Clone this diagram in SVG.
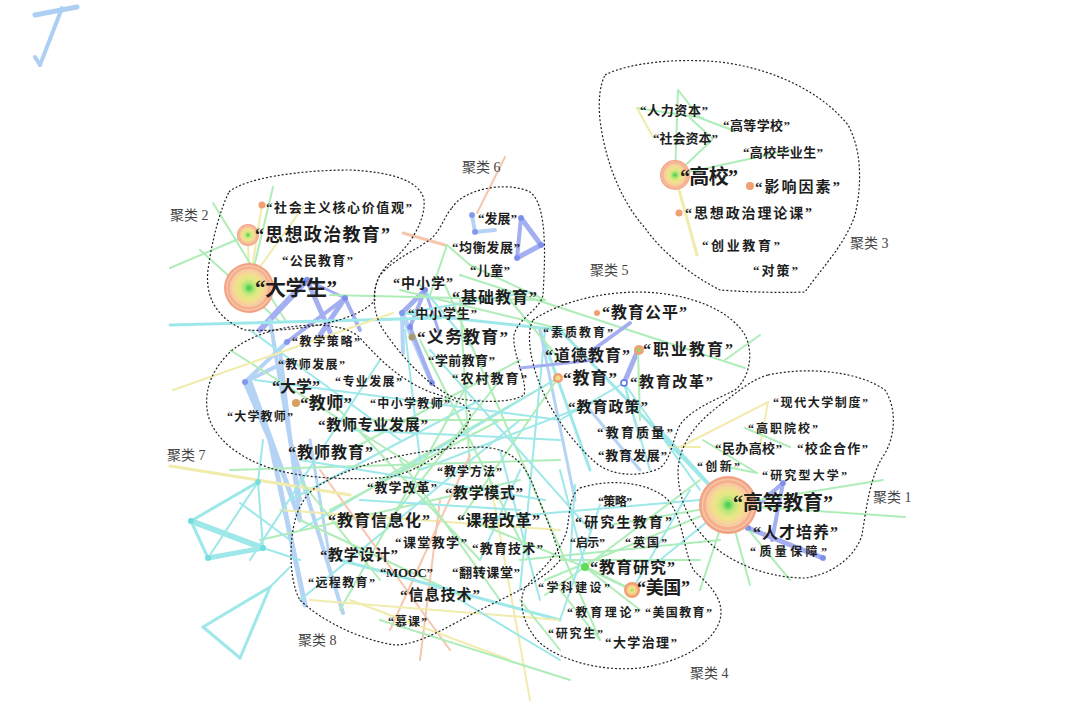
<svg xmlns="http://www.w3.org/2000/svg" xmlns:xlink="http://www.w3.org/1999/xlink" width="1080" height="710" viewBox="0 0 1080 710">
<style>
.e{fill:none;stroke-linecap:round;opacity:.55}
.g{stroke:#6fe07f}.c{stroke:#4fd6d8}.lb{stroke:#7ab0ee}.b{stroke:#5a6ee6}.y{stroke:#e6dc6a}.o{stroke:#ee9a6e}
.w2{stroke-width:2}.w3{stroke-width:3}.w4{stroke-width:4}.w5{stroke-width:5}.w6{stroke-width:6}
.hull{fill:none;stroke:#222;stroke-width:1.2;stroke-dasharray:2 2}
.cl{font-family:"Liberation Serif","Noto Sans CJK SC",serif;font-size:14px;fill:#444}
.t{font-family:"Liberation Serif","Noto Sans CJK SC",serif;font-weight:bold;fill:#1e1e1e}
.mn{fill:#6b7fea;opacity:.7}
.mc{fill:#5fd8d8;opacity:.7}
</style>
<defs>
<symbol id="burst" viewBox="-30 -30 60 60">
<circle r="30" fill="#f2a284"/><circle r="27.5" fill="#f7c2a4"/><circle r="25.5" fill="#f4ae8c"/><circle r="23" fill="#f8cba0"/><circle r="20" fill="#f5d796"/><circle r="16.5" fill="#efe38a"/><circle r="13" fill="#dfe884"/><circle r="9.5" fill="#c4e67c"/><circle r="6" fill="#92e06c"/><circle r="3" fill="#4fd255"/>
</symbol>
<symbol id="ring" viewBox="-30 -30 60 60">
<circle r="30" fill="#f0a070"/><circle r="21" fill="#f6c890"/><circle r="13" fill="#eee680"/><circle r="6" fill="#a8e070"/>
</symbol>
</defs>
<rect width="1080" height="710" fill="#fff"/>

<g id="corner-mark" class="e" style="opacity:.6">
<line x1="35" y1="15" x2="77" y2="7" class="lb w5"/>
<line x1="62" y1="8" x2="40" y2="65" class="lb w4"/>
<line x1="35" y1="57" x2="40" y2="65" class="lb w4"/>
</g>

<g id="connectors" class="e">
<!-- cluster 3 -->
<line x1="678" y1="90" x2="675" y2="175" class="g w2"/>
<line x1="678" y1="90" x2="700" y2="118" class="g w2"/>
<line x1="700" y1="118" x2="735" y2="131" class="g w2"/>
<line x1="637" y1="108" x2="703" y2="118" class="g w2"/>
<line x1="637" y1="108" x2="653" y2="137" class="y w2"/>
<line x1="690" y1="118" x2="712" y2="138" class="g w2"/>
<line x1="675" y1="175" x2="712" y2="140" class="g w2"/>
<line x1="675" y1="175" x2="790" y2="150" class="g w2"/>
<line x1="675" y1="175" x2="697" y2="255" class="y w3"/>
<!-- cluster 2 -->
<line x1="249" y1="288" x2="262" y2="205" class="y w2"/>
<line x1="249" y1="288" x2="248" y2="235" class="y w2"/>
<line x1="170" y1="268" x2="248" y2="235" class="g w2"/>
<line x1="213" y1="203" x2="285" y2="320" class="g w2"/>
<line x1="200" y1="250" x2="280" y2="322" class="g w2"/>
<line x1="273" y1="187" x2="249" y2="288" class="g w2"/>
<line x1="303" y1="207" x2="260" y2="267" class="y w2"/>
<line x1="260" y1="330" x2="307" y2="280" class="b w6"/>
<line x1="307" y1="280" x2="330" y2="332" class="b w5"/>
<line x1="307" y1="280" x2="345" y2="298" class="b w3"/>
<line x1="345" y1="298" x2="320" y2="335" class="b w5"/>
<line x1="345" y1="298" x2="287" y2="342" class="b w4"/>
<line x1="345" y1="298" x2="360" y2="330" class="b w4"/>
<line x1="403" y1="233" x2="445" y2="245" class="o w3"/>
<!-- cluster 6 -->
<line x1="505" y1="157" x2="477" y2="213" class="o w2"/>
<line x1="472" y1="215" x2="475" y2="232" class="lb w4"/>
<line x1="475" y1="232" x2="495" y2="230" class="lb w4"/>
<line x1="521" y1="218" x2="541" y2="245" class="b w5"/>
<line x1="541" y1="245" x2="517" y2="258" class="b w5"/>
<line x1="517" y1="258" x2="521" y2="218" class="b w4"/>
<line x1="447" y1="245" x2="430" y2="295" class="g w2"/>
<line x1="447" y1="245" x2="470" y2="265" class="g w2"/>
<line x1="470" y1="265" x2="545" y2="300" class="g w2"/>
<!-- primary / compulsory education -->
<line x1="425" y1="290" x2="402" y2="313" class="b w5"/>
<line x1="425" y1="290" x2="410" y2="327" class="b w4"/>
<line x1="402" y1="313" x2="432" y2="383" class="lb w5"/>
<line x1="410" y1="327" x2="432" y2="383" class="b w4"/>
<line x1="425" y1="290" x2="440" y2="335" class="b w3"/>
<line x1="402" y1="313" x2="403" y2="353" class="lb w4"/>
<!-- cluster 7 -->
<line x1="287" y1="342" x2="245" y2="382" class="lb w4"/>
<line x1="245" y1="382" x2="285" y2="362" class="lb w4"/>
<line x1="245" y1="382" x2="270" y2="440" class="lb w5"/>
<line x1="280" y1="352" x2="300" y2="520" class="lb w4"/>
<line x1="270" y1="320" x2="300" y2="500" class="lb w4"/>
<line x1="250" y1="382" x2="300" y2="520" class="lb w5"/>
<line x1="270" y1="440" x2="305" y2="605" class="lb w5"/>
<line x1="290" y1="440" x2="343" y2="613" class="lb w4"/>
<line x1="310" y1="440" x2="330" y2="560" class="lb w3"/>
<!-- long lines -->
<line x1="170" y1="325" x2="440" y2="318" class="c w3"/>
<line x1="330" y1="295" x2="545" y2="300" class="g w2"/>
<line x1="400" y1="290" x2="565" y2="330" class="g w2"/>
<line x1="405" y1="313" x2="560" y2="330" class="c w3"/>
<line x1="405" y1="313" x2="530" y2="292" class="c w2"/>
<line x1="420" y1="285" x2="470" y2="345" class="c w2"/>
<line x1="445" y1="285" x2="600" y2="640" class="g w2"/>
<line x1="460" y1="300" x2="470" y2="470" class="g w2"/>
<line x1="540" y1="330" x2="590" y2="470" class="c w3"/>
<line x1="545" y1="330" x2="520" y2="590" class="c w2"/>
<line x1="540" y1="330" x2="575" y2="500" class="lb w3"/>
<line x1="558" y1="378" x2="460" y2="520" class="g w2"/>
<line x1="558" y1="378" x2="380" y2="480" class="g w2"/>
<line x1="558" y1="378" x2="300" y2="530" class="c w2"/>
<line x1="520" y1="360" x2="350" y2="450" class="g w2"/>
<line x1="600" y1="400" x2="420" y2="470" class="c w2"/>
<line x1="500" y1="420" x2="330" y2="510" class="g w2"/>
<line x1="480" y1="400" x2="290" y2="500" class="c w2"/>
<line x1="230" y1="470" x2="560" y2="460" class="g w2"/>
<line x1="300" y1="460" x2="545" y2="500" class="c w2"/>
<line x1="260" y1="540" x2="520" y2="480" class="g w2"/>
<line x1="280" y1="510" x2="560" y2="530" class="y w2"/>
<line x1="300" y1="600" x2="520" y2="420" class="c w2"/>
<line x1="340" y1="610" x2="470" y2="380" class="g w2"/>
<line x1="300" y1="520" x2="470" y2="600" class="g w2"/>
<line x1="320" y1="470" x2="450" y2="650" class="o w2"/>
<line x1="440" y1="500" x2="420" y2="660" class="o w2"/>
<line x1="470" y1="455" x2="390" y2="630" class="o w2"/>
<line x1="490" y1="480" x2="530" y2="700" class="y w2"/>
<line x1="340" y1="560" x2="560" y2="620" class="c w3"/>
<line x1="560" y1="620" x2="310" y2="600" class="y w2"/>
<line x1="350" y1="600" x2="510" y2="660" class="y w2"/>
<line x1="380" y1="620" x2="570" y2="680" class="g w2"/>
<line x1="460" y1="600" x2="560" y2="660" class="c w2"/>
<line x1="560" y1="560" x2="700" y2="560" class="g w2"/>
<line x1="470" y1="520" x2="700" y2="500" class="c w2"/>
<line x1="520" y1="560" x2="720" y2="540" class="g w2"/>
<line x1="545" y1="580" x2="728" y2="505" class="g w2"/>
<line x1="560" y1="330" x2="728" y2="505" class="c w3"/>
<line x1="460" y1="275" x2="745" y2="368" class="g w2"/>
<line x1="510" y1="300" x2="560" y2="360" class="g w2"/>
<line x1="230" y1="350" x2="420" y2="470" class="g w2"/>
<line x1="250" y1="330" x2="400" y2="440" class="c w2"/>
<line x1="173" y1="390" x2="393" y2="313" class="y w2"/>
<line x1="170" y1="466" x2="350" y2="495" class="y w3"/>
<line x1="405" y1="330" x2="420" y2="460" class="c w2"/>
<line x1="420" y1="340" x2="530" y2="560" class="g w2"/>
<line x1="430" y1="350" x2="590" y2="530" class="c w2"/>
<line x1="370" y1="420" x2="530" y2="420" class="g w2"/>
<line x1="350" y1="430" x2="560" y2="440" class="c w2"/>
<line x1="500" y1="380" x2="390" y2="520" class="g w2"/>
<line x1="520" y1="470" x2="480" y2="560" class="c w2"/>
<line x1="300" y1="480" x2="380" y2="580" class="g w2"/>
<line x1="360" y1="500" x2="520" y2="510" class="c w2"/>
<line x1="400" y1="460" x2="500" y2="600" class="g w2"/>
<line x1="500" y1="450" x2="540" y2="600" class="c w2"/>
<line x1="590" y1="410" x2="640" y2="470" class="lb w3"/>
<line x1="255" y1="380" x2="560" y2="420" class="c w2"/>
<line x1="380" y1="360" x2="250" y2="560" class="c w2"/>
<line x1="330" y1="400" x2="480" y2="560" class="g w2"/>
<!-- left outliers -->
<line x1="258" y1="482" x2="191" y2="521" class="c w3"/>
<line x1="191" y1="521" x2="208" y2="558" class="c w3"/>
<line x1="208" y1="558" x2="263" y2="548" class="c w5"/>
<line x1="191" y1="521" x2="263" y2="548" class="c w6"/>
<line x1="208" y1="558" x2="258" y2="482" class="c w2"/>
<line x1="258" y1="482" x2="263" y2="547" class="c w2"/>
<line x1="240" y1="503" x2="290" y2="540" class="c w2"/>
<line x1="258" y1="482" x2="263" y2="440" class="c w2"/>
<line x1="263" y1="548" x2="300" y2="560" class="c w2"/>
<line x1="270" y1="587" x2="203" y2="627" class="c w3"/>
<line x1="203" y1="627" x2="240" y2="658" class="c w3"/>
<line x1="240" y1="658" x2="270" y2="587" class="c w3"/>
<line x1="270" y1="587" x2="290" y2="567" class="c w2"/>
<!-- cluster 5 -->
<line x1="630" y1="323" x2="590" y2="352" class="b w4"/>
<line x1="638" y1="350" x2="624" y2="383" class="b w5"/>
<line x1="520" y1="368" x2="595" y2="360" class="b w3"/>
<line x1="760" y1="335" x2="725" y2="360" class="g w2"/>
<line x1="624" y1="383" x2="560" y2="420" class="c w2"/>
<line x1="624" y1="383" x2="640" y2="440" class="c w2"/>
<line x1="638" y1="350" x2="640" y2="420" class="g w2"/>
<line x1="624" y1="383" x2="700" y2="490" class="c w2"/>
<line x1="624" y1="383" x2="650" y2="470" class="c w2"/>
<!-- cluster 1 -->
<line x1="680" y1="447" x2="768" y2="402" class="y w2"/>
<line x1="768" y1="402" x2="760" y2="445" class="y w2"/>
<line x1="700" y1="447" x2="670" y2="447" class="y w2"/>
<line x1="745" y1="428" x2="790" y2="447" class="g w2"/>
<line x1="703" y1="440" x2="757" y2="473" class="g w2"/>
<line x1="757" y1="473" x2="727" y2="467" class="g w2"/>
<line x1="760" y1="503" x2="783" y2="483" class="b w4"/>
<line x1="783" y1="483" x2="772" y2="540" class="b w4"/>
<line x1="748" y1="528" x2="823" y2="558" class="b w5"/>
<line x1="728" y1="505" x2="905" y2="517" class="g w2"/>
<line x1="728" y1="505" x2="883" y2="480" class="g w2"/>
<line x1="728" y1="505" x2="790" y2="580" class="g w2"/>
<line x1="728" y1="505" x2="750" y2="585" class="g w2"/>
<line x1="728" y1="505" x2="660" y2="560" class="c w2"/>
<line x1="728" y1="505" x2="660" y2="430" class="c w3"/>
<line x1="728" y1="505" x2="610" y2="525" class="g w2"/>
<line x1="728" y1="505" x2="700" y2="590" class="g w2"/>
<!-- cluster 4 -->
<line x1="585" y1="567" x2="632" y2="590" class="g w3"/>
<line x1="632" y1="590" x2="690" y2="490" class="c w2"/>
<line x1="585" y1="567" x2="470" y2="520" class="g w2"/>
<line x1="585" y1="567" x2="560" y2="470" class="c w2"/>
<line x1="585" y1="567" x2="640" y2="610" class="g w2"/>
<line x1="585" y1="567" x2="700" y2="480" class="g w2"/>
<line x1="585" y1="567" x2="545" y2="595" class="g w2"/>
<line x1="560" y1="620" x2="600" y2="505" class="c w2"/>
<line x1="600" y1="640" x2="560" y2="590" class="g w2"/>
<line x1="520" y1="600" x2="560" y2="650" class="g w2"/>
<line x1="575" y1="485" x2="570" y2="560" class="c w2"/>
</g>

<g id="minor-nodes">
<circle cx="307" cy="280" r="3" class="mn"/><circle cx="345" cy="298" r="3" class="mn"/>
<circle cx="287" cy="342" r="3" class="mn"/><circle cx="245" cy="382" r="3" class="mn"/>
<circle cx="425" cy="290" r="3" class="mn"/><circle cx="402" cy="313" r="3" class="mn"/>
<circle cx="410" cy="327" r="3" class="mn"/><circle cx="432" cy="383" r="3" class="mn"/>
<circle cx="521" cy="218" r="3" class="mn"/><circle cx="541" cy="245" r="3" class="mn"/>
<circle cx="517" cy="258" r="3" class="mn"/><circle cx="472" cy="215" r="3" class="mn"/>
<circle cx="475" cy="232" r="3" class="mn"/><circle cx="783" cy="483" r="3" class="mn"/>
<circle cx="823" cy="558" r="3" class="mn"/><circle cx="748" cy="528" r="3" class="mn"/>
<circle cx="258" cy="482" r="3" class="mc"/><circle cx="191" cy="521" r="3" class="mc"/>
<circle cx="208" cy="558" r="3" class="mc"/><circle cx="263" cy="548" r="3" class="mc"/>
</g>

<g id="clusters">
<path class="hull" d="M605,75 C630,62 680,58 720,62 C770,68 820,90 848,125 C862,150 862,185 855,215 C845,245 820,270 805,292 C780,293 745,292 720,290 C690,275 660,250 645,228 C620,200 605,160 600,120 C598,100 600,85 605,75 Z"/>
<path class="hull" d="M229,192 C245,178 300,170 350,170 C390,172 420,180 424,200 C426,220 410,245 395,258 C380,270 373,285 375,300 C360,320 300,333 245,330 C215,318 205,295 208,270 C212,240 220,210 229,192 Z"/>
<path class="hull" d="M452,208 C462,190 505,180 530,192 C548,205 545,260 543,295 C540,310 518,318 514,335 C512,355 528,380 524,395 C510,404 475,402 455,398 C425,385 398,352 382,328 C372,310 372,290 380,275 C395,258 420,248 432,238 C442,228 445,215 452,208 Z"/>
<path class="hull" d="M533,320 C560,302 600,292 640,292 C690,293 730,310 745,335 C755,355 748,380 735,390 C715,400 690,410 680,425 C672,440 672,458 660,468 C640,478 610,476 595,462 C570,440 550,410 540,385 C532,365 525,335 533,320 Z"/>
<path class="hull" d="M268,332 C300,322 345,322 360,338 C380,360 400,380 430,392 C455,400 472,405 470,418 C462,440 425,470 390,477 C350,481 300,478 270,468 C240,458 215,440 208,415 C203,390 212,370 230,352 C242,342 255,336 268,332 Z"/>
<path class="hull" d="M323,483 C360,462 420,448 480,447 C510,448 525,462 535,490 C545,515 558,545 560,560 C545,580 510,595 480,610 C450,625 420,645 395,645 C360,640 320,620 300,600 C288,580 288,530 300,507 C306,495 313,488 323,483 Z"/>
<path class="hull" d="M580,488 C610,478 650,482 668,500 C685,520 683,555 695,572 C710,585 725,600 720,620 C712,645 680,662 640,668 C600,672 560,660 540,643 C522,625 518,600 525,588 C540,570 560,555 567,530 C570,510 570,495 580,488 Z"/>
<path class="hull" d="M768,375 C810,366 860,372 885,390 C898,410 895,440 882,458 C870,478 866,510 862,535 C855,558 830,575 805,578 C770,578 735,565 712,545 C690,525 678,500 678,470 C680,440 700,420 720,405 C738,392 750,380 768,375 Z"/>
<text class="cl" x="873" y="502">聚类 1</text>
<text class="cl" x="170" y="220">聚类 2</text>
<text class="cl" x="850" y="248">聚类 3</text>
<text class="cl" x="690" y="678">聚类 4</text>
<text class="cl" x="590" y="275">聚类 5</text>
<text class="cl" x="462" y="172">聚类 6</text>
<text class="cl" x="167" y="460">聚类 7</text>
<text class="cl" x="298" y="645">聚类 8</text>
</g>

<!-- cluster 3 nodes -->
<g id="n-rlzb"><text class="t" x="640" y="115" font-size="13" textLength="68">“人力资本”</text></g>
<g id="n-gdxx"><text class="t" x="723" y="130" font-size="13" textLength="67">“高等学校”</text></g>
<g id="n-shzb"><text class="t" x="653" y="143" font-size="13" textLength="65">“社会资本”</text></g>
<g id="n-gxbys"><text class="t" x="743" y="157" font-size="13" textLength="80">“高校毕业生”</text></g>
<g id="n-gx"><use href="#burst" x="660" y="160" width="30" height="30"/><text class="t" x="680" y="184" font-size="20" textLength="58">“高校”</text></g>
<g id="n-yxys"><circle cx="750" cy="186" r="4" fill="#f0a070"/><text class="t" x="755" y="192" font-size="15" textLength="85">“影响因素”</text></g>
<g id="n-szllk"><circle cx="679" cy="213" r="3.5" fill="#f0a070"/><text class="t" x="685" y="218" font-size="14" textLength="127">“思想政治理论课”</text></g>
<g id="n-cyjy"><text class="t" x="702" y="250" font-size="13" textLength="78">“创业教育”</text></g>
<g id="n-dc"><text class="t" x="753" y="275" font-size="13" textLength="45">“对策”</text></g>

<!-- cluster 2 nodes -->
<g id="n-shzy"><circle cx="262" cy="205" r="3.5" fill="#f0a070"/><text class="t" x="266" y="212" font-size="13" textLength="146">“社会主义核心价值观”</text></g>
<g id="n-szzzjy"><use href="#burst" x="237" y="224" width="22" height="22"/><text class="t" x="255" y="241" font-size="18" textLength="135">“思想政治教育”</text></g>
<g id="n-gmjy"><text class="t" x="282" y="265" font-size="13" textLength="71">“公民教育”</text></g>
<g id="n-dxs"><use href="#burst" x="224" y="263" width="50" height="50"/><text class="t" x="255" y="295" font-size="21" textLength="82">“大学生”</text></g>

<!-- cluster 6 nodes -->
<g id="n-fz"><text class="t" x="478" y="223" font-size="13" textLength="39">“发展”</text></g>
<g id="n-jhfz"><text class="t" x="452" y="252" font-size="13" textLength="68">“均衡发展”</text></g>
<g id="n-et"><text class="t" x="470" y="275" font-size="13" textLength="40">“儿童”</text></g>
<g id="n-zxx"><text class="t" x="393" y="288" font-size="14" textLength="60">“中小学”</text></g>
<g id="n-jcjy"><text class="t" x="452" y="303" font-size="16" textLength="85">“基础教育”</text></g>
<g id="n-zxxs"><text class="t" x="408" y="318" font-size="13" textLength="69">“中小学生”</text></g>
<g id="n-ywjy"><circle cx="412" cy="337" r="3.5" fill="#a89a70"/><text class="t" x="417" y="343" font-size="17" textLength="91">“义务教育”</text></g>
<g id="n-xqjy"><text class="t" x="428" y="365" font-size="13" textLength="67">“学前教育”</text></g>
<g id="n-ncjy"><text class="t" x="452" y="383" font-size="13" textLength="75">“农村教育”</text></g>

<!-- cluster 5 nodes -->
<g id="n-jygp"><circle cx="597" cy="313" r="3" fill="#f0a070"/><text class="t" x="602" y="318" font-size="16" textLength="85">“教育公平”</text></g>
<g id="n-szjy"><text class="t" x="543" y="337" font-size="12" textLength="70">“素质教育”</text></g>
<g id="n-ddjy"><text class="t" x="545" y="361" font-size="16" textLength="85">“道德教育”</text></g>
<g id="n-zyjy"><circle cx="639" cy="350" r="5" fill="#f0a070"/><circle cx="639" cy="350" r="2" fill="#8fd870"/><text class="t" x="643" y="355" font-size="16" textLength="90">“职业教育”</text></g>
<g id="n-jy"><circle cx="558" cy="378" r="5" fill="#f0a070"/><circle cx="558" cy="378" r="2.5" fill="#f2dc8a"/><text class="t" x="563" y="384" font-size="17" textLength="54">“教育”</text></g>
<g id="n-jygg"><circle cx="624" cy="383" r="3" fill="#fff" stroke="#5a6ee6" stroke-width="1.5"/><text class="t" x="630" y="387" font-size="15" textLength="83">“教育改革”</text></g>
<g id="n-jyzc"><text class="t" x="568" y="412" font-size="15" textLength="80">“教育政策”</text></g>
<g id="n-jyzl"><text class="t" x="597" y="437" font-size="13" textLength="76">“教育质量”</text></g>
<g id="n-jyfz"><text class="t" x="598" y="460" font-size="13" textLength="69">“教育发展”</text></g>

<!-- cluster 7 nodes -->
<g id="n-jxcl"><text class="t" x="292" y="346" font-size="12" textLength="68">“教学策略”</text></g>
<g id="n-jsfz"><text class="t" x="278" y="369" font-size="12" textLength="67">“教师发展”</text></g>
<g id="n-dx"><text class="t" x="272" y="392" font-size="16" textLength="48">“大学”</text></g>
<g id="n-zyfz"><text class="t" x="335" y="386" font-size="12" textLength="67">“专业发展”</text></g>
<g id="n-js"><circle cx="296" cy="403" r="4" fill="#d8a060"/><text class="t" x="300" y="409" font-size="17" textLength="52">“教师”</text></g>
<g id="n-zxxjs"><text class="t" x="370" y="408" font-size="12" textLength="80">“中小学教师”</text></g>
<g id="n-dxjs"><text class="t" x="227" y="421" font-size="12" textLength="66">“大学教师”</text></g>
<g id="n-jszyfz"><text class="t" x="318" y="430" font-size="15" textLength="110">“教师专业发展”</text></g>
<g id="n-jsjy"><text class="t" x="288" y="458" font-size="16" textLength="85">“教师教育”</text></g>

<!-- cluster 8 nodes -->
<g id="n-jxff"><text class="t" x="437" y="476" font-size="12" textLength="65">“教学方法”</text></g>
<g id="n-jxgg"><text class="t" x="367" y="492" font-size="13" textLength="70">“教学改革”</text></g>
<g id="n-jxms"><text class="t" x="445" y="498" font-size="15" textLength="78">“教学模式”</text></g>
<g id="n-jyxxh"><text class="t" x="328" y="526" font-size="16" textLength="102">“教育信息化”</text></g>
<g id="n-kcgg"><text class="t" x="457" y="526" font-size="16" textLength="83">“课程改革”</text></g>
<g id="n-ktjx"><text class="t" x="395" y="547" font-size="13" textLength="72">“课堂教学”</text></g>
<g id="n-jyjs"><text class="t" x="472" y="553" font-size="13" textLength="71">“教育技术”</text></g>
<g id="n-jxsj"><text class="t" x="320" y="560" font-size="15" textLength="78">“教学设计”</text></g>
<g id="n-mooc"><text class="t" x="380" y="577" font-size="13" textLength="53">“MOOC”</text></g>
<g id="n-fzkt"><text class="t" x="452" y="577" font-size="13" textLength="68">“翻转课堂”</text></g>
<g id="n-ycjy"><text class="t" x="308" y="587" font-size="12" textLength="67">“远程教育”</text></g>
<g id="n-xxjs"><text class="t" x="400" y="600" font-size="15" textLength="80">“信息技术”</text></g>
<g id="n-mk"><text class="t" x="388" y="626" font-size="12" textLength="39">“慕课”</text></g>

<!-- cluster 4 nodes -->
<g id="n-cl"><text class="t" x="598" y="506" font-size="12" textLength="34">“策略”</text></g>
<g id="n-yjsjy"><text class="t" x="575" y="527" font-size="14" textLength="97">“研究生教育”</text></g>
<g id="n-qs"><text class="t" x="570" y="547" font-size="12" textLength="35">“启示”</text></g>
<g id="n-yg"><text class="t" x="625" y="547" font-size="12" textLength="42">“英国”</text></g>
<g id="n-jyyj"><circle cx="585" cy="567" r="4" fill="#5fdc5a"/><text class="t" x="590" y="573" font-size="16" textLength="85">“教育研究”</text></g>
<g id="n-xkjs"><text class="t" x="538" y="592" font-size="12" textLength="72">“学科建设”</text></g>
<g id="n-mg"><use href="#ring" x="624" y="582" width="16" height="16"/><text class="t" x="637" y="594" font-size="18" textLength="53">“美国”</text></g>
<g id="n-jyll"><text class="t" x="567" y="617" font-size="12" textLength="73">“教育理论”</text></g>
<g id="n-mgjy"><text class="t" x="645" y="617" font-size="12" textLength="67">“美国教育”</text></g>
<g id="n-yjs"><text class="t" x="548" y="638" font-size="12" textLength="55">“研究生”</text></g>
<g id="n-dxzl"><text class="t" x="605" y="647" font-size="13" textLength="72">“大学治理”</text></g>

<!-- cluster 1 nodes -->
<g id="n-xddxzd"><text class="t" x="773" y="407" font-size="12" textLength="95">“现代大学制度”</text></g>
<g id="n-gzyx"><text class="t" x="748" y="433" font-size="12" textLength="70">“高职院校”</text></g>
<g id="n-mbgx"><text class="t" x="715" y="453" font-size="13" textLength="67">“民办高校”</text></g>
<g id="n-xqhz"><text class="t" x="797" y="453" font-size="13" textLength="71">“校企合作”</text></g>
<g id="n-cx"><text class="t" x="697" y="471" font-size="12" textLength="43">“创新”</text></g>
<g id="n-yjxdx"><text class="t" x="762" y="480" font-size="12" textLength="85">“研究型大学”</text></g>
<g id="n-gdjy"><use href="#burst" x="699" y="476" width="58" height="58"/><text class="t" x="733" y="510" font-size="20" textLength="100">“高等教育”</text></g>
<g id="n-rcpy"><text class="t" x="753" y="538" font-size="16" textLength="85">“人才培养”</text></g>
<g id="n-zlbz"><text class="t" x="750" y="556" font-size="12" textLength="77">“质量保障”</text></g>
</svg>
